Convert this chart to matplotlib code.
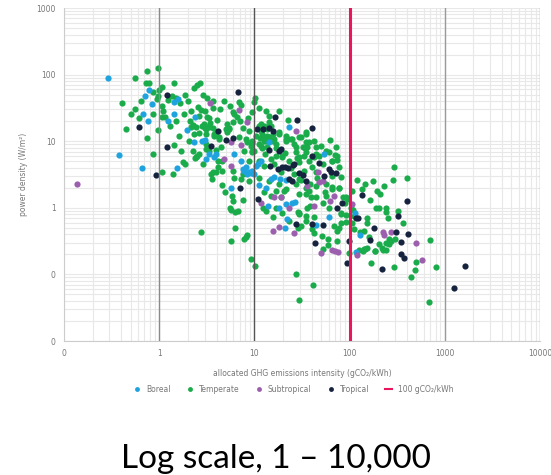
import numpy as np
import matplotlib
matplotlib.use('Agg')
import matplotlib.pyplot as plt
from matplotlib.lines import Line2D
from matplotlib.ticker import FixedLocator, FixedFormatter, LogLocator, NullFormatter

# allocated GHG intensity (gCO2/kWh) and power density (W/m2) per climate zone
boreal_x = [0.29, 0.79, 1.57, 1.44, 0.71, 0.84, 0.67, 1.23, 1.44, 0.77, 1.97, 2.39, 2.33, 2.8,
            3.04, 3.35, 3.79, 3.09, 0.38, 0.66, 1.52, 6.13, 7.2, 5.65, 3.95, 8.1, 7.8, 8.8, 9.4,
            8.4, 9.95, 10.8, 11.7, 7.5, 9.2, 10.3, 11.2, 13.2, 14.9, 16.1, 18.5, 21.3, 14.3, 23.3,
            53.5, 18.2, 21.7, 24.7, 26.4, 22.1, 60, 20.9, 13.9, 44, 129, 114, 118]
boreal_y = [90, 59, 43, 39, 48, 36.6, 26, 19.8, 25.5, 19.8, 14.5, 23.4, 9.6, 10.1,
            10.4, 6.4, 5.85, 5.4, 6.3, 3.95, 4.0, 6.4, 5.0, 1.96, 6.4, 4.05, 3.6, 3.4, 3.6,
            3.2, 3.2, 4.5, 5.1, 3.8, 3.3, 4.3, 2.2, 2.0, 2.7, 2.9, 2.7, 2.6, 9.9, 16.1,
            6.4, 0.98, 1.16, 1.2, 1.24, 0.67, 0.73, 0.5, 1.07, 0.555, 0.39, 0.85, 0.216]

temperate_x = [0.96, 0.75, 0.56, 0.73, 0.79, 1.0, 1.08, 1.43, 1.36, 1.5, 1.65, 1.85, 2.0, 2.33,
               2.47, 2.71, 2.9, 3.69, 3.69, 0.65, 0.94, 0.97, 0.41, 0.5, 0.87, 1.06, 1.07, 1.16,
               1.5, 0.45, 0.97, 0.75, 1.62, 2.24, 2.17, 2.53, 2.74, 2.99, 3.2, 3.41, 3.69, 3.94,
               2.33, 2.03, 1.44, 1.7, 2.49, 2.39, 3.09, 3.09, 3.94, 0.86, 1.79, 1.88, 1.07, 1.41,
               3.63, 3.57, 4.82, 5.5, 5.9, 6.13, 6.9, 7.3, 10.0, 10.2, 9.5, 7.0, 6.0, 3.3, 2.8,
               3.35, 5.0, 5.35, 4.27, 3.79, 8.3, 9.4, 9.5, 4.1, 4.6, 6.13, 7.2, 22.3, 22.6, 24.3,
               35, 37.6, 34, 29.6, 62, 70.6, 73, 82, 66, 78, 29.6, 146, 196, 230, 287, 189, 203,
               240, 154, 152, 203, 240, 270, 298, 167, 296, 98, 74, 73, 40.6, 42.5, 51, 27.3,
               41.6, 29.6, 9.25, 10.1, 8.1, 7.8, 8.45, 12.3, 81, 91, 290, 405, 240, 143, 153,
               139, 703, 495, 810, 489, 440, 677, 5.8, 5.5, 5.65, 6.25, 6.8, 6.25, 2.74, 5.65,
               4.95, 2.43, 2.63, 4.1, 2.15, 3.09, 3.35, 5.2, 5.4, 5.9, 7.5, 9.95, 11.7, 13.2,
               14.3, 15.5, 16.8, 19.7, 23.3, 27.3, 33, 36, 44, 52, 66, 74, 37.6, 29.6, 12.7,
               14.9, 16.8, 19, 20.5, 29.6, 34.7, 37.6, 44, 56, 52, 61, 13.2, 15.5, 23.3, 29.6,
               34.7, 42.5, 16.8, 14.9, 18.2, 21.3, 26.2, 29.6, 34.7, 42.5, 50, 61, 72, 2.43,
               2.97, 3.79, 4.27, 4.5, 3.35, 2.24, 2.85, 3.5, 4.6, 5.9, 4.6, 6.9, 8.1, 9.2, 9.5,
               7.8, 10.3, 11.7, 12.7, 13.7, 16.1, 11.2, 12.7, 14.3, 13.7, 12.1, 11.4, 8.7, 11.2,
               12.7, 16.1, 40.6, 44, 8.8, 9.5, 11.2, 12.7, 13.7, 15.5, 16.8, 21.3, 19.7, 27.3,
               30.7, 34.7, 44, 56, 66, 78, 90, 86, 93, 103, 108, 110, 81, 91, 52, 59, 59, 30.7,
               28.5, 19.7, 29, 36, 34.7, 29.6, 78, 69, 81, 107, 112, 128, 143, 160, 146, 183,
               225, 240, 126, 262, 262, 218, 186, 7.5, 8.8, 11.2, 14.3, 18.2, 21.3, 27.3, 34.7,
               44, 56, 66, 78, 91, 107, 39, 38, 2.63, 3.09, 3.94, 11.2, 13.2, 14.3, 18.2, 11.7,
               13.7, 18.2, 21.3, 25, 32.5, 34.7, 42.5, 48,
               0.55, 0.62, 0.85, 1.1, 1.25, 1.3, 1.8, 2.1, 2.6, 3.0, 3.2, 4.0, 4.4, 5.2, 6.5,
               7.6, 8.6, 12, 13, 15, 17, 19, 21, 24, 26, 28, 31, 33, 38, 45, 55, 65, 120, 135,
               165, 175, 210, 250, 320, 360]
temperate_y = [127, 114, 89, 75, 76, 59, 65, 76, 47, 45, 37, 50, 40, 64,
               69, 74, 50, 40, 31, 40, 43, 47, 38, 26, 26, 34, 23.4, 22.8,
               19.8, 15.2, 14.7, 11, 11.8, 17.3, 28.7, 33, 29.4, 28, 22.8, 18.5, 15.8, 13.6,
               12.7, 10.1, 8.9, 7.2, 6.0, 5.6, 7.6, 9.1, 7.4, 6.4, 4.8, 4.5, 3.5, 3.17,
               3.4, 2.7, 40, 34, 27, 26, 39, 35, 39, 44, 27, 20.3, 19.2, 22, 17,
               16.1, 15.2, 15.8, 11.4, 12.8, 9.7, 9.5, 7.2, 4.05, 2.2, 2.8, 2.7, 20.8, 10.7, 10.7,
               9.9, 9.6, 7.8, 5.7, 10.5, 6.3, 5.3, 2.95, 2.07, 1.98, 2.7, 2.27, 1.8, 2.14, 2.6, 1.01, 0.99,
               0.99, 0.715, 0.6, 0.285, 0.3, 0.32, 0.34, 0.15, 0.13, 0.213, 0.32, 0.45, 0.48, 0.425, 0.38, 0.1,
               0.069, 0.041, 0.171, 0.134, 0.36, 0.34, 0.39, 0.99, 0.85, 0.785, 4.04, 2.8, 0.87, 0.24, 0.25,
               0.226, 0.33, 0.156, 0.131, 0.118, 0.093, 0.039, 1.48, 1.01, 0.93, 0.86, 0.9, 0.5, 0.44, 0.32,
               1.7, 5.7, 6.4, 5.1, 16.1, 15.2, 17.1, 13.6, 15.2, 1.27, 1.3, 7.2, 8.5, 10.1,
               11.4, 12.8, 6.0, 5.7, 5.1, 6.8, 6.0, 8.1, 6.4, 4.5, 5.1, 6.0, 5.1, 4.8, 1.7,
               1.5, 1.8, 1.43, 1.8, 1.6, 1.6, 1.8, 1.43, 1.5, 1.2, 1.01, 0.9, 0.72, 0.64, 0.8,
               0.64, 0.72, 1.01, 17.1, 12.8, 10.8, 9.1, 11.4, 13.6, 10.1, 8.5, 6.8, 8.1, 16.1,
               18.1, 12.1, 10.8, 8.1, 7.2, 7.2, 4.5, 3.2, 3.6, 3.6, 5.1, 11.4, 10.8, 8.5, 6.8,
               7.2, 12.1, 14.4, 10.1, 12.1, 10.8, 17.1, 17.1, 19.2, 15.2, 12.8, 11.2, 5.1, 5.1,
               4.3, 4.6, 4.05, 3.5, 14.4, 10.1, 9.1, 11.4, 8.1, 10.1, 9.1, 10.1, 6.0, 8.1,
               11.4, 12.8, 8.1, 7.2, 5.1, 4.05, 1.2, 1.43, 1.35, 1.01, 0.92, 0.76, 0.8, 0.62, 0.24, 0.34, 0.28, 0.54,
               0.5, 0.85, 0.87, 0.99, 0.76, 0.85, 0.5, 0.54, 0.6, 0.6, 0.48, 0.43, 0.45, 0.36, 0.24, 0.225,
               0.23, 0.235, 0.233, 0.34, 0.285, 0.25, 0.225, 3.2, 2.55, 2.85, 2.55, 2.27, 1.9, 2.27, 2.0,
               2.14, 2.27, 1.9, 2.0, 1.43, 1.8, 1.43, 1.05, 13.1, 12.8, 3.4, 32, 28.7, 24.3, 28.7, 18.1,
               16.1, 13.6, 12.1, 10.8, 8.1, 6.8, 5.7, 6.0,
               30, 22, 55, 28, 42, 17, 26, 20, 24, 16, 44, 21, 30, 18, 23,
               16, 22, 7.8, 6.5, 5.4, 7.9, 3.4, 6.6, 4.0, 3.2, 5.6, 2.6, 3.6, 2.3, 2.8, 1.7, 3.0, 2.6, 1.9,
               1.3, 2.5, 1.6, 0.7, 0.9, 0.6]

subtropical_x = [0.137, 3.43, 6.95, 8.3, 5.65, 7.2, 4.82, 5.65, 27.3, 46, 36, 48, 52, 11.7, 15.9,
                 19, 42.5, 69, 107, 15.7, 18.2, 26.2, 49.5, 70.6, 75, 66, 120, 222, 271, 230,
                 495, 580, 23.3, 62]
subtropical_y = [2.3, 38, 29.5, 19.6, 9.6, 8.9, 5.4, 4.3, 14.4, 3.4, 2.1, 2.4, 2.5, 1.2, 1.46,
                 1.43, 1.07, 1.5, 1.14, 0.45, 0.52, 0.425, 0.213, 0.226, 0.22, 0.231, 0.196, 0.436, 0.44, 0.39,
                 0.295, 0.167, 1.01, 1.27]

tropical_x = [1.2, 0.62, 4.1, 1.21, 3.51, 0.93, 6.75, 5.0, 5.9, 7.0, 10.7, 16.4, 15.5, 27.9, 40,
              14.3, 18.2, 19.1, 40.5, 48, 25.7, 22.3, 21.1, 14.5, 17.5, 54, 63, 72, 32, 35, 25,
              22.8, 12.2, 14.3, 19.7, 26.2, 29.6, 61, 10.8, 27.3, 40.6, 52, 42.9, 84, 74, 118,
              99, 134, 180, 164, 220, 93, 405, 324, 121, 310, 410, 350, 346, 375, 1240, 1640]
tropical_y = [50, 16.5, 14.2, 8.3, 8.4, 3.1, 55, 10.4, 11.2, 1.95, 15, 23.4, 14.1, 21, 15.6,
              7.4, 7.2, 7.6, 6.0, 4.75, 4.4, 3.95, 4.1, 4.3, 3.85, 3.0, 3.5, 3.3, 3.1, 2.55, 2.55,
              2.75, 15.2, 15.8, 4.05, 4.5, 3.3, 3.8, 1.35, 0.58, 0.57, 0.555, 0.3, 1.18, 0.98, 0.7,
              0.32, 1.57, 0.49, 0.33, 0.122, 0.146, 1.27, 0.75, 0.715, 0.435, 0.4, 0.31, 0.2, 0.175, 0.062, 0.133]

threshold = 100
x_ticks = [0.1, 1, 10, 100, 1000, 10000]
x_labels = ['0', '1', '10', '100', '1000', '10000']
y_ticks = [0.01, 0.1, 1, 10, 100, 1000]
y_labels = ['0', '0', '1', '10', '100', '1000']

colors = {'Boreal': '#1fa3de', 'Temperate': '#1aab4b', 'Subtropical': '#9b5fae',
          'Tropical': '#16233f'}
red = '#e8175d'
txt_col = '#777777'

fig = plt.figure(figsize=(5.51, 4.75), dpi=100)
ax = fig.add_axes([0.1162, 0.2821, 0.8639, 0.701])
ax.set_xscale('log')
ax.set_yscale('log')
ax.set_xlim(0.1, 10000)
ax.set_ylim(0.01, 1000)

# grid
ax.xaxis.set_minor_locator(LogLocator(base=10, subs=np.arange(2, 10)))
ax.yaxis.set_minor_locator(LogLocator(base=10, subs=np.arange(2, 10)))
ax.xaxis.set_minor_formatter(NullFormatter())
ax.yaxis.set_minor_formatter(NullFormatter())
ax.grid(True, which='both', color='#e8e8e8', lw=0.8, zorder=0)
# decade lines sit on top of the dots, like in the original
for xv, c in [(1, '#8a8a8a'), (10, '#555555'), (1000, '#9a9a9a'), (10000, '#b0b0b0')]:
    ax.axvline(xv, color=c, lw=1.0, zorder=5)
ax.axvline(threshold, color=red, lw=2.2, zorder=5)

ax.xaxis.set_major_locator(FixedLocator(x_ticks))
ax.xaxis.set_major_formatter(FixedFormatter(x_labels))
ax.yaxis.set_major_locator(FixedLocator(y_ticks))
ax.yaxis.set_major_formatter(FixedFormatter(y_labels))
ax.tick_params(which='both', length=0, labelsize=5.5, labelcolor=txt_col, pad=6)

for s in ['top', 'right']:
    ax.spines[s].set_visible(False)
for s in ['left', 'bottom']:
    ax.spines[s].set_color('#cccccc')
    ax.spines[s].set_linewidth(0.8)

ms = 20
ax.scatter(temperate_x, temperate_y, s=ms, color=colors['Temperate'], lw=0, zorder=3)
ax.scatter(boreal_x, boreal_y, s=ms, color=colors['Boreal'], lw=0, zorder=4)
ax.scatter(subtropical_x, subtropical_y, s=ms, color=colors['Subtropical'], lw=0, zorder=4)
ax.scatter(tropical_x, tropical_y, s=ms, color=colors['Tropical'], lw=0, zorder=4)

ax.set_xlabel('allocated GHG emissions intensity (gCO\u2082/kWh)', fontsize=5.5, color=txt_col, labelpad=8)
ax.set_ylabel('power density (W/m\u00b2)', fontsize=5.5, color=txt_col, labelpad=6)

handles = [Line2D([], [], ls='none', marker='o', ms=3.5, mec='none', mfc=colors[k], label=k)
           for k in ['Boreal', 'Temperate', 'Subtropical', 'Tropical']]
handles.append(Line2D([], [], color=red, lw=1.5, label='100 gCO\u2082/kWh'))
fig.legend(handles=handles, loc='center', bbox_to_anchor=(0.532, 0.181), ncol=5, frameon=False,
           fontsize=5.5, labelcolor=txt_col, handlelength=1.0, handletextpad=0.7, columnspacing=2.0)

fig.text(0.5, 0.034, 'Log scale, 1 \u2013 10,000', ha='center', va='center', fontsize=24,
         family='Lato', color='black')

fig.savefig('out.png', dpi=100, facecolor='white')
